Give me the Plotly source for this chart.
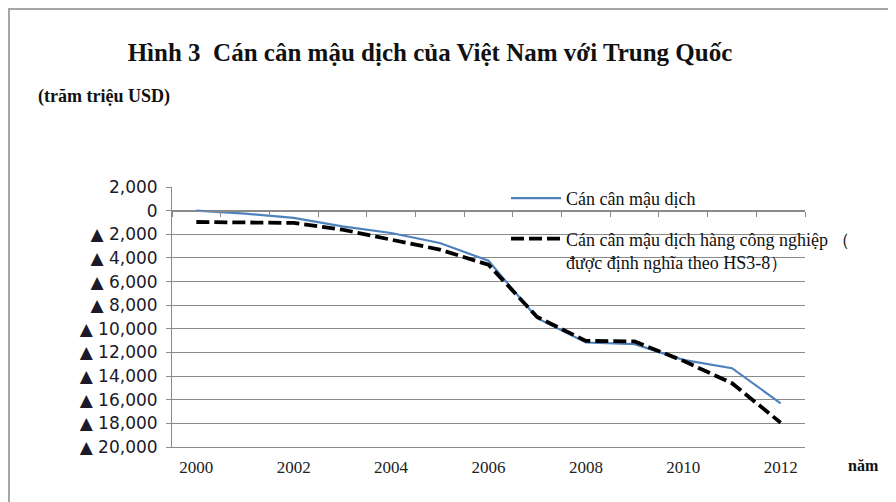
import plotly.graph_objects as go

years = list(range(2000, 2013))
balance_total = [0, -250, -620, -1330, -1890, -2740, -4240, -9100, -11160, -11300, -12630, -13330, -16300]
balance_industry = [-960, -1040, -1040, -1610, -2460, -3300, -4580, -9000, -11020, -11070, -12710, -14600, -17940]

name_total = "Cán cân mậu dịch"
name_industry = "Cán cân mậu dịch hàng công nghiệp （<br>được định nghĩa theo HS3-8）"

y_ticks = list(range(-20000, 2001, 2000))
y_ticktext = [("▲ " + f"{-v:,}") if v < 0 else f"{v:,}" for v in y_ticks]
x_label_years = [2000, 2002, 2004, 2006, 2008, 2010, 2012]
x_boundaries = [y - 0.5 for y in years] + [years[-1] + 0.5]

y_min, y_max = -20000, 2000
x_min, x_max = years[0] - 0.5, years[-1] + 0.5

# page body has an 8px margin; work in screen pixels and convert
OFF = 8
W, H = 896 - OFF, 502 - OFF
L = 172 - OFF
T = 187 - OFF
R = W - (805 - OFF)
B = H - (447 - OFF)
pw, ph = W - L - R, H - T - B

def px_x(px):
    return (px - OFF - L) / pw

def px_y(py):
    return (H - B - (py - OFF)) / ph

grid = "#8a8a8a"
serif = "Liberation Serif"

fig = go.Figure()
fig.add_trace(go.Scatter(
    x=years, y=balance_total, mode="lines", name=name_total,
    line=dict(color="#4F81BD", width=2.2), legendgroup="a"))
fig.add_trace(go.Scatter(
    x=years, y=balance_industry, mode="lines", name=name_industry,
    xaxis="x2",
    line=dict(color="#000000", width=3.8, dash="13px,5px"), legendgroup="b"))

fig.update_layout(
    width=W, height=H,
    margin=dict(l=L, r=R, t=T, b=B),
    paper_bgcolor="white", plot_bgcolor="white",
    title=dict(text="<b>Hình 3  Cán cân mậu dịch của Việt Nam với Trung Quốc</b>",
               font=dict(family=serif, size=25, color="#111111"),
               xref="container", x=(430 - OFF) / W, xanchor="center",
               yref="container", y=1 - (52 - OFF) / H, yanchor="middle"),
    xaxis=dict(range=[x_min, x_max], tickmode="array", tickvals=x_label_years,
               ticktext=[str(v) for v in x_label_years],
               showgrid=False, zeroline=False, showline=True, linecolor=grid, linewidth=1,
               ticks="", ticklabelstandoff=5,
               tickfont=dict(family=serif, size=17, color="#222222")),
    xaxis2=dict(range=[x_min, x_max], overlaying="x", anchor="free",
                position=(0 - y_min) / (y_max - y_min),
                tickmode="array", tickvals=x_boundaries, showticklabels=False,
                ticks="outside", ticklen=5, tickcolor=grid,
                showgrid=False, zeroline=False, showline=True, linecolor=grid, linewidth=1.2),
    yaxis=dict(range=[y_min, y_max], tickmode="array", tickvals=y_ticks, ticktext=y_ticktext,
               showgrid=True, gridcolor=grid, gridwidth=1, zeroline=False,
               showline=True, linecolor=grid, ticks="outside", ticklen=5, tickcolor=grid,
               ticklabelstandoff=5,
               tickfont=dict(family="DejaVu Sans", size=17, color="#1a1a2a")),
    legend=dict(x=px_x(506), y=px_y(180), xanchor="left", yanchor="top",
                bgcolor="rgba(0,0,0,0)", font=dict(family=serif, size=18, color="#111111"),
                tracegroupgap=14, itemwidth=50, valign="top"),
    showlegend=True,
    annotations=[
        dict(text="<b>(trăm triệu USD)</b>", xref="paper", yref="paper",
             x=px_x(36), y=px_y(97), xanchor="left", yanchor="middle", showarrow=False,
             font=dict(family=serif, size=18, color="#111111")),
        dict(text="<b>năm</b>", xref="paper", yref="paper",
             x=px_x(846), y=px_y(465), xanchor="left", yanchor="middle", showarrow=False,
             font=dict(family=serif, size=16, color="#111111")),
    ],
    shapes=[dict(type="rect", xref="paper", yref="paper",
                 x0=px_x(9), x1=px_x(1400), y0=px_y(1000), y1=px_y(9),
                 line=dict(color="#a6a6a6", width=2), layer="above")],
)

fig.write_html("out.html")
